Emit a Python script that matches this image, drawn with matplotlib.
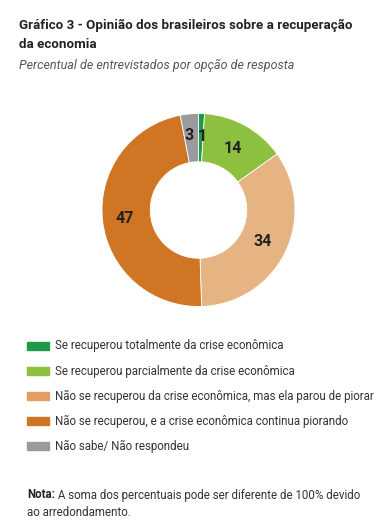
import numpy as np
import matplotlib.pyplot as plt
from matplotlib.patches import Rectangle

plt.rcParams['font.family'] = ['Roboto', 'DejaVu Sans']

categories = [
    "Se recuperou totalmente da crise econômica",
    "Se recuperou parcialmente da crise econômica",
    "Não se recuperou da crise econômica, mas ela parou de piorar",
    "Não se recuperou, e a crise econômica continua piorando",
    "Não sabe/ Não respondeu",
]
values = [1, 14, 34, 47, 3]
colors = ["#1f9a48", "#8dc03f", "#e6b383", "#cf7524", "#9b9b9f"]
legend_colors = ["#1f9a48", "#8dc03f", "#e39c62", "#cf7524", "#9b9b9f"]

W, H = 387, 520
fig = plt.figure(figsize=(W / 100, H / 100), dpi=100)

# donut axes, placed in pixels
cx, cy, r = 198.5, 210, 96.5
ax = fig.add_axes([(cx - r) / W, (H - cy - r) / H, 2 * r / W, 2 * r / H])
wedges, _ = ax.pie(values, colors=colors, startangle=90, counterclock=False,
                   radius=1, wedgeprops=dict(width=0.5, edgecolor="white", linewidth=0.6))
ax.set_xlim(-1, 1)
ax.set_ylim(-1, 1)
ax.set_aspect("equal")
ax.axis("off")

# value labels in the ring
total = sum(values)
start = 90.0
label_r = [0.76, 0.73, 0.74, 0.77, 0.78]
shift = [0.01, 0, 0, 0, -0.02]
for v, lr, sh in zip(values, label_r, shift):
    ang = start - v / total * 360 / 2
    start -= v / total * 360
    x = lr * np.cos(np.radians(ang)) + sh
    y = lr * np.sin(np.radians(ang))
    ax.text(x, y, str(v), ha="center", va="center", fontsize=11.5,
            fontweight="bold", color="#222222")

# titles
fig.text(19 / W, 1 - 25 / H, "Gráfico 3 - Opinião dos brasileiros sobre a recuperação",
         fontsize=9.6, fontweight="bold", color="#222222", va="center")
fig.text(19 / W, 1 - 44 / H, "da economia",
         fontsize=9.6, fontweight="bold", color="#222222", va="center")
fig.text(19 / W, 1 - 65 / H, "Percentual de entrevistados por opção de resposta",
         fontsize=9, style="italic", color="#555555", va="center")

# legend
for i, (lab, col) in enumerate(zip(categories, legend_colors)):
    yc = 346 + i * 25
    fig.patches.append(Rectangle((27 / W, 1 - (yc + 4) / H), 22 / W, 8 / H,
                                 transform=fig.transFigure, color=col))
    fig.text(55 / W, 1 - yc / H, lab, fontsize=8.3, color="#333333", va="center")

# note
nota = fig.text(27 / W, 1 - 495 / H, "Nota:", fontsize=8.3, fontweight="bold",
                color="#222222", va="center")
plt.annotate(" A soma dos percentuais pode ser diferente de 100% devido",
             xy=(1, 0.5), xycoords=nota, va="center", ha="left",
             fontsize=8.3, color="#333333")
fig.text(27 / W, 1 - 512 / H, "ao arredondamento.",
         fontsize=8.3, color="#333333", va="center")

fig.savefig("out.png", dpi=100, facecolor="white")
